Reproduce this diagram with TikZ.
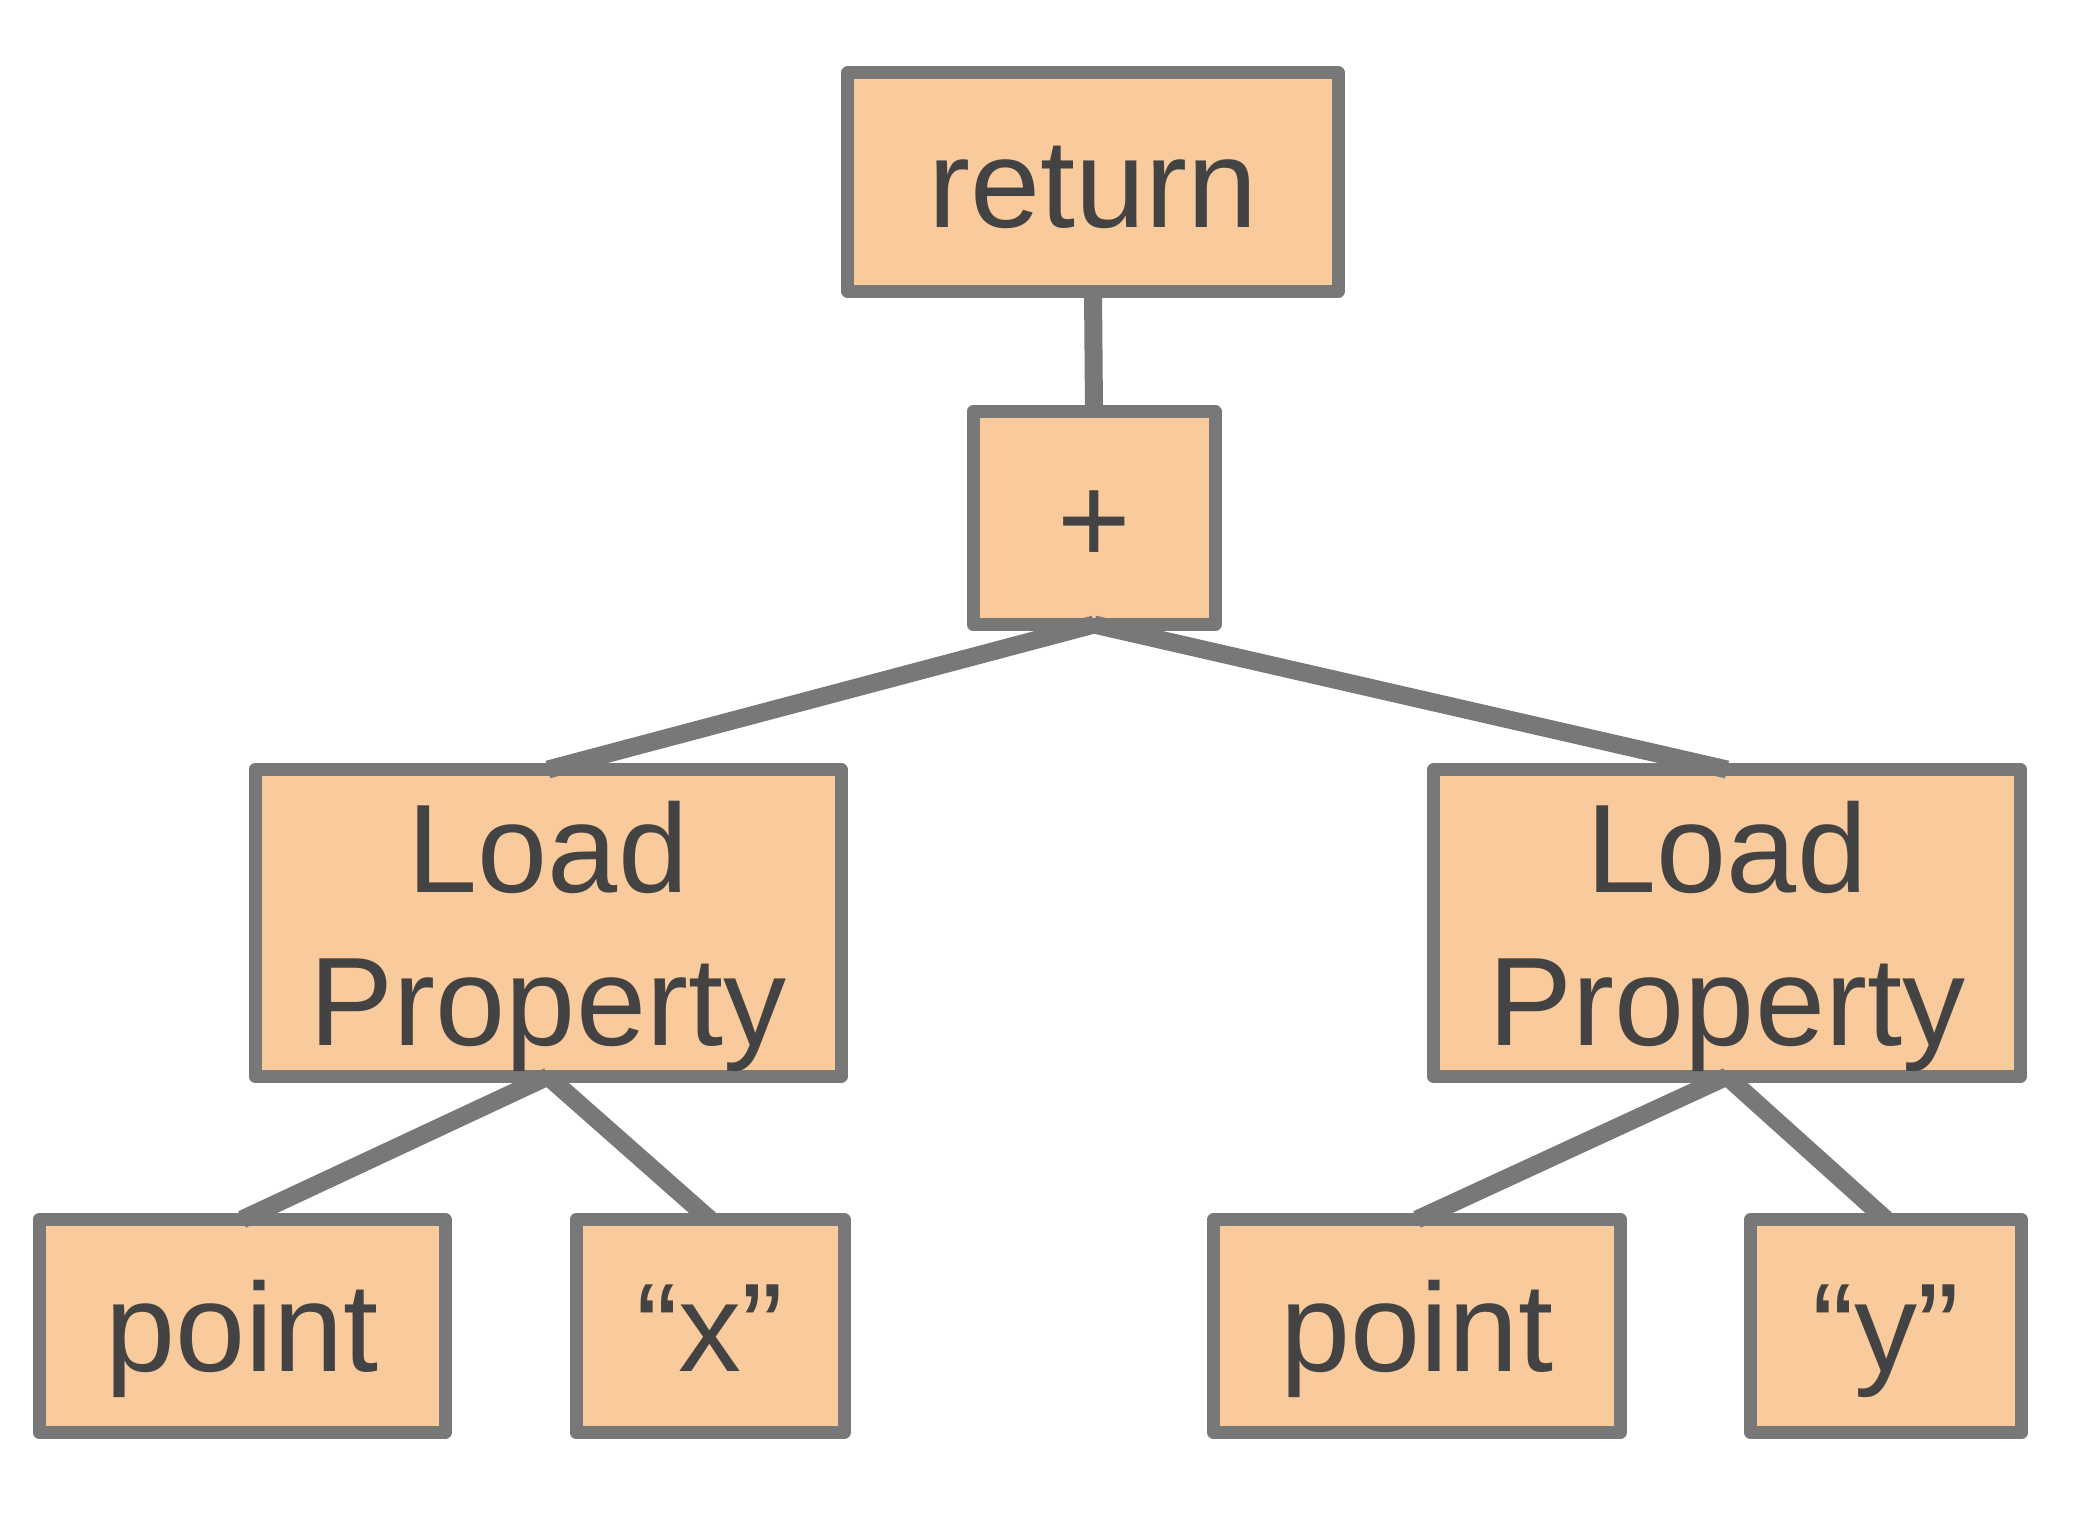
\documentclass[tikz,border=0pt]{standalone}
\usepackage{fontspec}
\setmainfont{Liberation Sans}
\usepackage{tikz}

\definecolor{boxfill}{HTML}{F8CA9C}
\definecolor{boxline}{HTML}{787878}
\definecolor{boxtext}{HTML}{434343}

\begin{document}
\begin{tikzpicture}[x=1pt, y=-1pt,
    treenode/.style={draw=boxline, fill=boxfill, line width=13pt, line join=round,
        text=boxtext, inner sep=0pt, outer sep=0pt, align=center, text depth=0pt,
        font=\fontsize{126}{153}\selectfont},
    oneline/.style={treenode, text height=91pt},
    link/.style={draw=boxline, line width=18pt}]
    \useasboundingbox (0,0) rectangle (2091,1520);
    \node [oneline, minimum width=491, minimum height=218] (ret) at (1093,182) {return};
    \node [oneline, minimum width=242, minimum height=213] (plus) at (1094,518) {+};
    \node [treenode, minimum width=586, minimum height=307] (loadx) at (548,923) {Load\\Property};
    \node [treenode, minimum width=587, minimum height=307] (loady) at (1727,923) {Load\\Property};
    \node [oneline, minimum width=406, minimum height=213] (pointx) at (242,1326) {point};
    \node [oneline, minimum width=268, minimum height=213] (strx) at (710,1326) {“x”};
    \node [oneline, minimum width=407, minimum height=213] (pointy) at (1417,1326) {point};
    \node [oneline, minimum width=271, minimum height=213] (stry) at (1886,1326) {“y”};
    \draw [link] (ret.south) -- (plus.north);
    \draw [link] (plus.south) -- (loadx.north);
    \draw [link] (plus.south) -- (loady.north);
    \draw [link] (loadx.south) -- (pointx.north);
    \draw [link] (loadx.south) -- (strx.north);
    \draw [link] (loady.south) -- (pointy.north);
    \draw [link] (loady.south) -- (stry.north);
\end{tikzpicture}
\end{document}
